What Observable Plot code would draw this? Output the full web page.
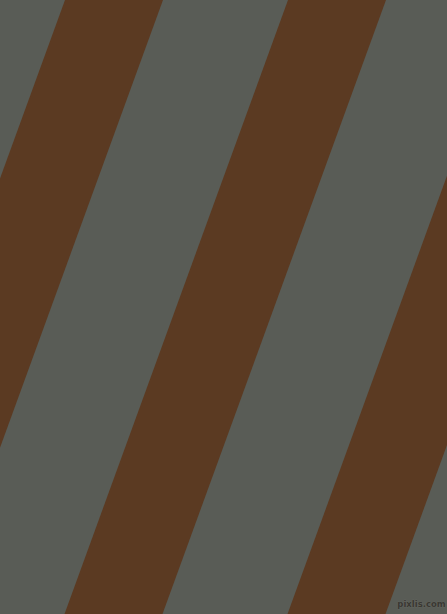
<!DOCTYPE html>
<html>
<head>
<meta charset="utf-8">
<script src="https://cdn.jsdelivr.net/npm/d3@7"></script>
<script src="https://cdn.jsdelivr.net/npm/@observablehq/plot@0.6"></script>
<style>
  html, body { margin: 0; padding: 0; background: #595c56; overflow: hidden; }
  svg { display: block; }
</style>
</head>
<body>
<div id="chart"></div>
<script>
// Stripe pattern values
const stripeNames = ["A", "B", "C"];
const stripeOffsets = [65, 288, 511];   // left edge of each brown stripe at the top row
const stripeWidth = 98;                  // horizontal width of a brown stripe
const stripeAngleDeg = 20;               // lean from vertical
const rowYs = [0, 614];                  // top and bottom rows
const grayColor = "#595c56";
const brownColor = "#5b3a22";
const watermark = ["pixlis.com"];

const lean = Math.tan(stripeAngleDeg * Math.PI / 180);
const rows = stripeNames.flatMap((name, i) =>
  rowYs.map(y => ({
    stripe: name,
    y,
    x1: stripeOffsets[i] - lean * y,
    x2: stripeOffsets[i] + stripeWidth - lean * y
  }))
);

const chart = Plot.plot({
  width: 447,
  height: 614,
  margin: 0,
  x: { domain: [0, 447], axis: null },
  y: { domain: [0, 614], range: [0, 614], axis: null },
  style: { background: grayColor },
  marks: [
    Plot.areaX(rows, { y: "y", x1: "x1", x2: "x2", z: "stripe", fill: brownColor, clip: true }),
    Plot.text(watermark, {
      x: 421, y: 604, text: d => d,
      fill: "#3a3833", fontSize: 8.5, fontFamily: "DejaVu Sans", fontWeight: "bold",
      stroke: "#6b6d66", strokeWidth: 0.6, paintOrder: "stroke"
    })
  ]
});
document.getElementById("chart").appendChild(chart);
</script>
</body>
</html>
